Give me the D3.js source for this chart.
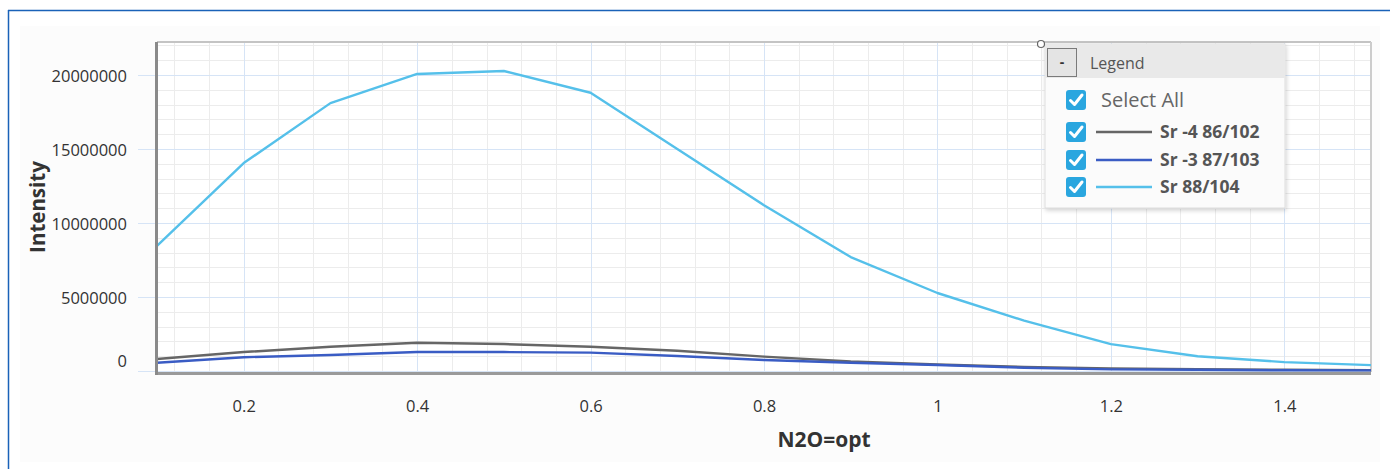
<!DOCTYPE html>
<html>
<head>
<meta charset="utf-8">
<script src="https://cdn.jsdelivr.net/npm/d3@7/dist/d3.min.js"></script>
<style>
  html, body { margin: 0; padding: 0; background: #ffffff; }
  svg { display: block; font-family: "Open Sans", "Noto Sans", sans-serif; }
</style>
</head>
<body>
<svg id="chart" width="1390" height="469"></svg>
<script>
// ---- data ----
const xValues = [0.1, 0.2, 0.3, 0.4, 0.5, 0.6, 0.7, 0.8, 0.9, 1.0, 1.1, 1.2, 1.3, 1.4, 1.5];
const seriesNames = ["Sr -4 86/102", "Sr -3 87/103", "Sr 88/104"];
const seriesColors = ["#666666", "#3a5cc4", "#55c0ea"];
const sr86 = [810000, 1280000, 1640000, 1910000, 1820000, 1640000, 1370000, 970000, 640000, 440000, 280000, 180000, 120000, 80000, 60000];
const sr87 = [560000, 930000, 1080000, 1280000, 1280000, 1240000, 1010000, 740000, 560000, 410000, 220000, 110000, 80000, 50000, 40000];
const sr88 = [8450000, 14050000, 18100000, 20070000, 20270000, 18800000, 15000000, 11200000, 7700000, 5270000, 3400000, 1820000, 1000000, 600000, 400000];
const xTicks = [0.2, 0.4, 0.6, 0.8, 1.0, 1.2, 1.4];
const xTickLabels = ["0.2", "0.4", "0.6", "0.8", "1", "1.2", "1.4"];
const yTicks = [0, 5000000, 10000000, 15000000, 20000000];
const yTickLabels = ["0", "5000000", "10000000", "15000000", "20000000"];
const xTitle = "N2O=opt";
const yTitle = "Intensity";
const legendTitle = "Legend";
const selectAllLabel = "Select All";

const allSeries = [sr86, sr87, sr88];

const svg = d3.select("#chart");
const W = 1390, H = 469;
const plot = { left: 157, right: 1371, top: 42, bottom: 372 };

// outer frame
svg.append("rect").attr("x", 20).attr("y", 26).attr("width", 1360).attr("height", 436).attr("fill", "#fcfcfc");
svg.append("line").attr("x1", 8).attr("x2", W).attr("y1", 10.5).attr("y2", 10.5).attr("stroke", "#1a62b8").attr("stroke-width", 1.5);
svg.append("line").attr("x1", 8.5).attr("x2", 8.5).attr("y1", 10).attr("y2", H).attr("stroke", "#1a62b8").attr("stroke-width", 1.5);

const x = d3.scaleLinear().domain([0.1, 1.5]).range([plot.left, plot.right]);
const y = d3.scaleLinear().domain([0, 22230000]).range([plot.bottom - 1, plot.top]);

// plot background
svg.append("rect").attr("x", plot.left).attr("y", plot.top)
  .attr("width", plot.right - plot.left).attr("height", plot.bottom - plot.top).attr("fill", "#ffffff");

// minor grid
const minorX = d3.range(0.12, 1.5, 0.04).filter(v => Math.abs(Math.round(v * 5) - v * 5) > 0.01);
const minorY = d3.range(1000000, 22300000, 1000000).filter(v => v % 5000000 !== 0);
svg.append("g").selectAll("line").data(minorX).join("line")
  .attr("x1", d => Math.round(x(d)) + 0.5).attr("x2", d => Math.round(x(d)) + 0.5)
  .attr("y1", plot.top).attr("y2", plot.bottom)
  .attr("stroke", "#ececec").attr("stroke-width", 1);
svg.append("g").selectAll("line").data(minorY).join("line")
  .attr("x1", plot.left).attr("x2", plot.right)
  .attr("y1", d => Math.round(y(d)) + 0.5).attr("y2", d => Math.round(y(d)) + 0.5)
  .attr("stroke", "#ececec").attr("stroke-width", 1);

// major grid
svg.append("g").selectAll("line").data(xTicks).join("line")
  .attr("x1", d => Math.round(x(d)) + 0.5).attr("x2", d => Math.round(x(d)) + 0.5)
  .attr("y1", plot.top).attr("y2", plot.bottom)
  .attr("stroke", "#d6e4f6").attr("stroke-width", 1);
svg.append("g").selectAll("line").data(yTicks).join("line")
  .attr("x1", 138).attr("x2", plot.right)
  .attr("y1", d => Math.round(y(d)) + 0.5).attr("y2", d => Math.round(y(d)) + 0.5)
  .attr("stroke", "#d6e4f6").attr("stroke-width", 1.2);

// borders
svg.append("line").attr("x1", plot.left).attr("x2", plot.right).attr("y1", plot.top).attr("y2", plot.top)
  .attr("stroke", "#c4c4c4").attr("stroke-width", 2);
svg.append("line").attr("x1", plot.right).attr("x2", plot.right).attr("y1", plot.top).attr("y2", plot.bottom)
  .attr("stroke", "#cccccc").attr("stroke-width", 2);

// lines
const line = d3.line().x((d, i) => x(xValues[i])).y(d => y(d));
allSeries.forEach((s, i) => {
  svg.append("path").datum(s).attr("d", line)
    .attr("fill", "none").attr("stroke", seriesColors[i]).attr("stroke-width", 2.4)
    .attr("stroke-linejoin", "round");
});

// axis lines
svg.append("line").attr("x1", plot.left - 1).attr("x2", plot.right).attr("y1", plot.bottom + 1.5).attr("y2", plot.bottom + 1.5)
  .attr("stroke", "#9a9a9a").attr("stroke-width", 3);
svg.append("line").attr("x1", plot.left - 0.5).attr("x2", plot.left - 0.5).attr("y1", plot.top).attr("y2", plot.bottom + 3)
  .attr("stroke", "#8a8a8a").attr("stroke-width", 3);

// axes (ticks and labels)
const xAxis = d3.axisBottom(x).tickValues(xTicks).tickSize(0).tickPadding(28)
  .tickFormat((d, i) => xTickLabels[i]);
const gx = svg.append("g").attr("transform", `translate(0,${plot.bottom})`).call(xAxis);
gx.select(".domain").remove();
gx.attr("font-size", null).attr("font-family", null);
gx.selectAll("text").style("font-size", "16.5px").attr("fill", "#333");

const yAxis = d3.axisLeft(y).tickValues(yTicks).tickSize(0).tickPadding(30)
  .tickFormat((d, i) => yTickLabels[i]);
const gy = svg.append("g").attr("transform", `translate(${plot.left},0)`).call(yAxis);
gy.select(".domain").remove();
gy.attr("font-size", null).attr("font-family", null);
gy.selectAll("text").style("font-size", "16.5px").attr("fill", "#333")
  .attr("dy", (d) => d === 0 ? "-0.25em" : "0.4em");

// axis titles
svg.append("text").attr("x", 824).attr("y", 447).attr("text-anchor", "middle")
  .attr("font-size", 21).attr("font-weight", "bold").attr("fill", "#333").text(xTitle);
svg.append("text").attr("transform", "translate(45,207) rotate(-90)").attr("text-anchor", "middle")
  .attr("font-size", 20.5).attr("font-weight", "bold").attr("fill", "#333").text(yTitle);

// legend
const lg = svg.append("g");
const L = { x: 1045, y: 44, w: 240, h: 164 };
const defs = svg.append("defs");
const f = defs.append("filter").attr("id", "sh").attr("x", "-10%").attr("y", "-10%").attr("width", "130%").attr("height", "130%");
f.append("feDropShadow").attr("dx", 1).attr("dy", 2).attr("stdDeviation", 2).attr("flood-color", "#000").attr("flood-opacity", 0.18);
lg.append("rect").attr("x", L.x).attr("y", L.y).attr("width", L.w).attr("height", L.h)
  .attr("fill", "#fbfbfb").attr("stroke", "#dddddd").attr("filter", "url(#sh)");
lg.append("rect").attr("x", L.x).attr("y", L.y).attr("width", L.w).attr("height", 34).attr("fill", "#e9e9e9");
lg.append("rect").attr("x", 1047.5).attr("y", 48.5).attr("width", 29).attr("height", 28)
  .attr("fill", "#e4e4e4").attr("stroke", "#7a7a7a").attr("stroke-width", 1);
lg.append("text").attr("x", 1062).attr("y", 67).attr("text-anchor", "middle").attr("font-size", 14).attr("font-weight", "bold").attr("fill", "#333").text("-");
lg.append("text").attr("x", 1090).attr("y", 69).attr("font-size", 16).attr("fill", "#555").text(legendTitle);
lg.append("circle").attr("cx", 1041).attr("cy", 44).attr("r", 3.5).attr("fill", "#fff").attr("stroke", "#666").attr("stroke-width", 1.2);

function checkbox(cy) {
  const g = lg.append("g").attr("transform", `translate(1066,${cy - 10})`);
  g.append("rect").attr("width", 20).attr("height", 20).attr("rx", 3).attr("fill", "#2aa6df");
  g.append("path").attr("d", "M4.5,10.5 L8.5,14.5 L16,5").attr("fill", "none")
    .attr("stroke", "#fff").attr("stroke-width", 3).attr("stroke-linecap", "round").attr("stroke-linejoin", "round");
}
checkbox(100);
lg.append("text").attr("x", 1101).attr("y", 107).attr("font-size", 20).attr("fill", "#666").text(selectAllLabel);
const rowY = [132, 160, 187];
seriesNames.forEach((n, i) => {
  checkbox(rowY[i]);
  lg.append("line").attr("x1", 1096).attr("x2", 1152).attr("y1", rowY[i]).attr("y2", rowY[i])
    .attr("stroke", seriesColors[i]).attr("stroke-width", 2.4);
  lg.append("text").attr("x", 1160).attr("y", rowY[i] + 6).attr("font-size", 17.5).attr("font-weight", "bold")
    .attr("fill", "#555").text(n);
});
</script>
</body>
</html>
